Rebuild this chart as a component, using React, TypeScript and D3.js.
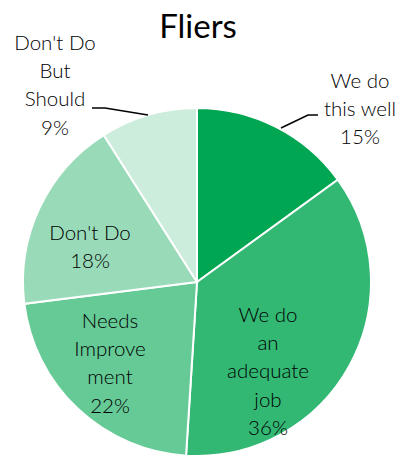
import React from "react";
import * as d3 from "d3";

const categories = ["We do this well", "We do an adequate job", "Needs Improvement", "Don't Do", "Don't Do But Should"];
const labelLines = [
  ["We do", "this well"],
  ["We do", "an", "adequate", "job"],
  ["Needs", "Improve", "ment"],
  ["Don't Do"],
  ["Don't Do", "But", "Should"],
];
const values = [15, 36, 22, 18, 9];
const colors = ["#00A651", "#33B874", "#66CA97", "#99DBB9", "#CCEDDC"];
const title = "Fliers";

// label layout (first baseline offset from pie centre)
const labelLayout = [
  { dx: 163, dy: -194 },
  { dx: 71, dy: 40 },
  { dx: -87, dy: 46 },
  { dx: -107, dy: -42 },
  { dx: -142, dy: -232 },
];

export default function App() {
  const W = 404, H = 458;
  const cx = 197, cy = 282, r = 174;
  const lh = 28.2;
  const pie = d3.pie<number>().sort(null).value((d) => d)(values);
  const arc = d3.arc<d3.PieArcDatum<number>>().innerRadius(0).outerRadius(r);
  const font = "Lato, 'Open Sans', sans-serif";
  return (
    <svg width={W} height={H} style={{ position: "absolute", left: 0, top: 0 }}>
      <text x={198} y={38} textAnchor="middle" fontSize={33} fontWeight={400} fontFamily={font} fill="#000">{title}</text>
      <g transform={`translate(${cx},${cy})`}>
        {pie.map((p, i) => (
          <path key={categories[i]} d={arc(p) || ""} fill={colors[i]} stroke="#fff" strokeWidth={2} />
        ))}
        {/* leader lines */}
        <polyline points="84,-154 111,-167 121,-167" fill="none" stroke="#000" strokeWidth={1.5} />
        <polyline points="-49,-167 -92,-174 -105,-174" fill="none" stroke="#000" strokeWidth={1.5} />
        {pie.map((p, i) => {
          const L = labelLayout[i];
          const lines = [...labelLines[i], `${values[i]}%`];
          return (
            <text key={"l" + i} textAnchor="middle" fontSize={20.5} fontWeight={300} fontFamily={font} fill="#000">
              {lines.map((t, j) => (
                <tspan key={j} x={L.dx} y={L.dy + j * lh}>{t}</tspan>
              ))}
            </text>
          );
        })}
      </g>
    </svg>
  );
}
